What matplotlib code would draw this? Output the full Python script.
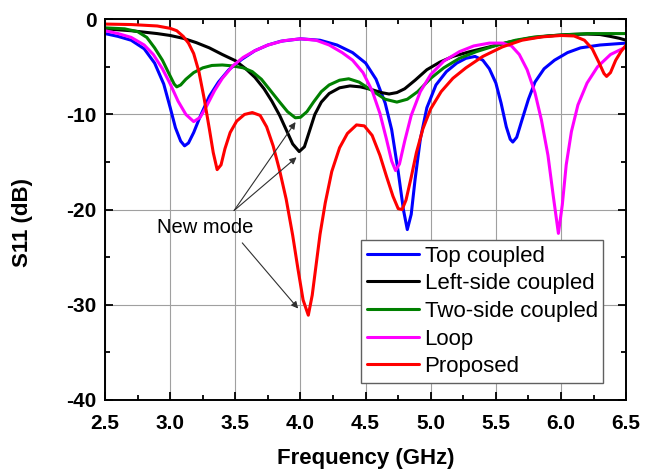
import matplotlib
matplotlib.use('Agg')
import matplotlib.pyplot as plt
from matplotlib.ticker import MultipleLocator

# S11 curves (frequency in GHz, S11 in dB)
top_freq = [2.5, 2.6, 2.7, 2.8, 2.88, 2.95, 3.0, 3.04, 3.08, 3.11, 3.14, 3.18,
            3.23, 3.3, 3.37, 3.45, 3.55, 3.65, 3.75, 3.85, 4.0, 4.15, 4.28, 4.4,
            4.5, 4.58, 4.65, 4.7, 4.75, 4.79, 4.82, 4.85, 4.88, 4.92, 4.97, 5.04,
            5.12, 5.2, 5.27, 5.34, 5.4, 5.45, 5.5, 5.54, 5.58, 5.61, 5.63, 5.66,
            5.7, 5.75, 5.8, 5.87, 5.95, 6.05, 6.15, 6.3, 6.5]
top_s11 = [-1.5, -1.8, -2.2, -3.1, -4.6, -6.8, -9.3, -11.4, -12.8, -13.3, -13.0,
           -11.9, -10.2, -8.1, -6.6, -5.3, -4.2, -3.3, -2.7, -2.3, -2.05, -2.2,
           -2.7, -3.5, -4.6, -6.3, -8.8, -11.6, -16.0, -20.0, -22.1, -20.5, -16.8,
           -12.6, -9.3, -6.9, -5.5, -4.6, -4.1, -3.9, -4.3, -5.2, -6.7, -8.8,
           -11.3, -12.6, -12.9, -12.4, -10.6, -8.4, -6.6, -5.2, -4.3, -3.5, -3.0,
           -2.7, -2.5]

left_freq = [2.5, 2.7, 2.9, 3.0, 3.1, 3.2, 3.3, 3.4, 3.5, 3.58, 3.65, 3.72, 3.78,
             3.84, 3.89, 3.94, 3.99, 4.03, 4.07, 4.11, 4.16, 4.22, 4.3, 4.38, 4.46,
             4.55, 4.62, 4.68, 4.74, 4.8, 4.88, 4.97, 5.07, 5.17, 5.3, 5.45, 5.6,
             5.75, 5.9, 6.05, 6.2, 6.3, 6.38, 6.45, 6.5]
left_s11 = [-1.0, -1.2, -1.5, -1.7, -2.0, -2.45, -3.0, -3.7, -4.35, -5.2, -6.1,
            -7.3, -8.6, -10.1, -11.6, -13.1, -13.9, -13.4, -11.7, -10.0, -8.7,
            -7.8, -7.2, -7.0, -7.1, -7.4, -7.7, -7.85, -7.7, -7.3, -6.4, -5.3,
            -4.5, -3.9, -3.4, -2.9, -2.4, -2.0, -1.75, -1.6, -1.55, -1.6, -1.8,
            -2.0, -2.2]

two_freq = [2.5, 2.65, 2.75, 2.82, 2.88, 2.94, 2.99, 3.03, 3.05, 3.08, 3.12, 3.18,
            3.25, 3.32, 3.4, 3.48, 3.56, 3.63, 3.7, 3.77, 3.84, 3.9, 3.96, 4.0,
            4.05, 4.1, 4.16, 4.22, 4.3, 4.37, 4.45, 4.55, 4.65, 4.74, 4.82, 4.9,
            5.0, 5.1, 5.22, 5.35, 5.5, 5.65, 5.8, 6.0, 6.2, 6.5]
two_s11 = [-0.9, -1.0, -1.3, -1.9, -3.0, -4.3, -5.7, -6.8, -7.1, -6.9, -6.3, -5.6,
           -5.1, -4.85, -4.8, -4.9, -5.1, -5.5, -6.3, -7.5, -8.7, -9.7, -10.35,
           -10.3, -9.7, -8.7, -7.6, -6.9, -6.4, -6.25, -6.6, -7.5, -8.4, -8.7,
           -8.4, -7.6, -6.2, -5.1, -4.1, -3.4, -2.75, -2.2, -1.85, -1.65, -1.5,
           -1.5]

loop_freq = [2.5, 2.6, 2.7, 2.8, 2.87, 2.94, 3.0, 3.06, 3.12, 3.18, 3.23, 3.28,
             3.34, 3.4, 3.48, 3.56, 3.65, 3.75, 3.87, 4.0, 4.12, 4.22, 4.32, 4.4,
             4.48, 4.55, 4.61, 4.66, 4.7, 4.73, 4.76, 4.8, 4.85, 4.92, 5.0, 5.1,
             5.22, 5.33, 5.45, 5.55, 5.62, 5.68, 5.74, 5.8, 5.85, 5.9, 5.94, 5.98,
             6.01, 6.04, 6.08, 6.13, 6.2, 6.28, 6.38, 6.5]
loop_s11 = [-1.2, -1.5, -1.9, -2.7, -3.7, -5.2, -6.8, -8.6, -10.0, -10.75, -10.3,
            -9.1, -7.5, -6.2, -4.9, -4.0, -3.3, -2.7, -2.25, -2.05, -2.2, -2.7,
            -3.5, -4.3, -5.6, -7.5, -9.9, -12.6, -14.9, -15.9, -15.2, -12.8, -10.1,
            -7.6, -5.8, -4.4, -3.4, -2.8, -2.5, -2.5, -2.8, -3.7, -5.3, -7.7,
            -10.6, -14.3, -18.5, -22.5, -19.5, -15.3, -11.8, -9.0, -6.7, -5.0,
            -3.7, -2.9]

prop_freq = [2.5, 2.7, 2.9, 3.0, 3.05, 3.1, 3.14, 3.18, 3.22, 3.26, 3.3, 3.33,
             3.36, 3.39, 3.42, 3.46, 3.51, 3.57, 3.63, 3.69, 3.74, 3.79, 3.84,
             3.89, 3.94, 3.98, 4.02, 4.06, 4.09, 4.12, 4.15, 4.19, 4.24, 4.3, 4.36,
             4.43, 4.49, 4.55, 4.61, 4.66, 4.71, 4.75, 4.78, 4.81, 4.85, 4.89,
             4.94, 5.0, 5.08, 5.17, 5.27, 5.4, 5.55, 5.7, 5.85, 6.0, 6.1, 6.18,
             6.24, 6.29, 6.33, 6.35, 6.38, 6.42, 6.46, 6.5]
prop_s11 = [-0.5, -0.55, -0.7, -0.95, -1.2, -1.8, -2.5, -3.6, -5.5, -8.3, -11.5,
            -14.0, -15.8, -15.3, -13.6, -11.9, -10.7, -10.0, -9.8, -10.1, -11.3,
            -13.3, -15.9, -18.9, -22.7, -26.2, -29.5, -31.1, -29.0, -25.8, -22.6,
            -19.3, -16.0, -13.5, -12.0, -11.1, -11.2, -12.2, -14.3, -16.5, -18.6,
            -19.9, -20.0, -19.0, -16.6, -14.0, -11.5, -9.4, -7.6, -6.2, -5.1,
            -3.9, -2.9, -2.2, -1.85, -1.7, -1.75, -2.2, -3.1, -4.5, -5.7, -6.0,
            -5.6, -4.3, -3.4, -2.7]

labels = ['Top coupled', 'Left-side coupled', 'Two-side coupled', 'Loop', 'Proposed']
colors = ['#0000ff', '#000000', '#008000', '#ff00ff', '#ff0000']

x_ticks = [2.5, 3.0, 3.5, 4.0, 4.5, 5.0, 5.5, 6.0, 6.5]
y_ticks = [0, -10, -20, -30, -40]

# "New mode" annotation: text spot and the modes it points at
note_text = 'New mode'
note_xy = (3.27, -21.9)
note_targets = [(3.962, -10.8), (3.97, -14.5), (3.982, -30.4)]
note_starts = [(3.49, -20.1), (3.49, -20.1), (3.553, -23.5)]


def main():
  plt.rcParams['font.family'] = ['Liberation Sans', 'DejaVu Sans']
  fig = plt.figure(figsize=(6.57, 4.71), dpi=100)
  ax = fig.add_axes([0.160, 0.151, 0.793, 0.808])

  series = [
    (top_freq, top_s11),
    (left_freq, left_s11),
    (two_freq, two_s11),
    (loop_freq, loop_s11),
    (prop_freq, prop_s11),
  ]
  for (freq, s11), label, color in zip(series, labels, colors):
    ax.plot(freq, s11, color=color, lw=2.2, label=label,
            solid_joinstyle='round', solid_capstyle='round')

  ax.set_xlim(2.5, 6.5)
  ax.set_ylim(-40, 0)
  ax.set_xticks(x_ticks)
  ax.set_yticks(y_ticks)
  ax.set_xticklabels(['%.1f' % t for t in x_ticks])
  ax.set_yticklabels([str(t) for t in y_ticks])
  ax.xaxis.set_minor_locator(MultipleLocator(0.25))
  ax.yaxis.set_minor_locator(MultipleLocator(5))
  ax.tick_params(which='both', direction='in', top=True, right=True, width=1.3)
  ax.tick_params(which='major', length=6, labelsize=15)
  ax.tick_params(axis='x', which='major', pad=10)
  ax.tick_params(axis='y', which='major', pad=6)
  ax.tick_params(which='minor', length=3.5)
  for lab in ax.get_xticklabels() + ax.get_yticklabels():
    lab.set_fontweight('bold')
  for spine in ax.spines.values():
    spine.set_linewidth(1.4)
  ax.grid(True, which='major', color='#a0a0a0', lw=0.8)
  ax.set_axisbelow(True)

  ax.set_xlabel('Frequency (GHz)', fontsize=16, fontweight='bold', labelpad=11)
  ax.set_ylabel('S11 (dB)', fontsize=16, fontweight='bold')
  ax.yaxis.set_label_coords(-0.138, 0.465)

  ax.text(note_xy[0], note_xy[1], note_text, fontsize=14.5, ha='center', va='center')
  for start, end in zip(note_starts, note_targets):
    ax.annotate('', xy=end, xytext=start,
                arrowprops=dict(arrowstyle='-|>', color='#303030', lw=0.8,
                                mutation_scale=10, shrinkA=0, shrinkB=0))

  leg = ax.legend(loc='lower right', bbox_to_anchor=(0.956, 0.045),
                  fontsize=16, fancybox=False, framealpha=1,
                  edgecolor='#606060', handlelength=2.35, labelspacing=0.3,
                  borderaxespad=0, borderpad=0.25, handletextpad=0.25)
  leg.get_frame().set_linewidth(1.0)

  fig.savefig('out.png', dpi=100)


main()
